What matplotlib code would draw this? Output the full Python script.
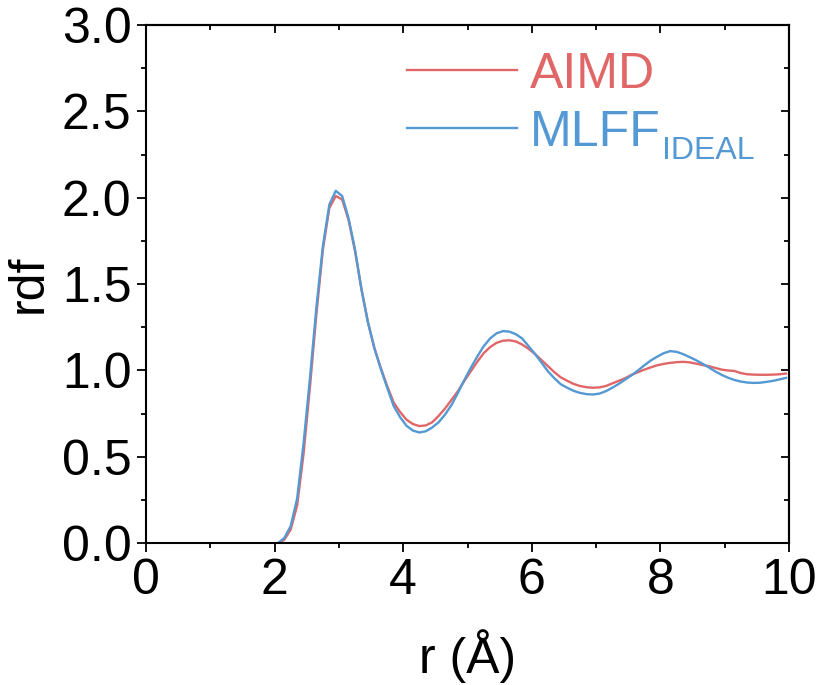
import numpy as np
import matplotlib as mpl
mpl.use('Agg')
import matplotlib.pyplot as plt
from matplotlib.ticker import MultipleLocator, FormatStrFormatter

plt.rcParams['font.family'] = ['Liberation Sans', 'DejaVu Sans']

# bin centres, 0.1 A bins
r = np.arange(100) * 0.1 + 0.05

rdf_aimd_tail = [
    0.00, 0.02, 0.08, 0.22, 0.52, 0.91, 1.33, 1.70, 1.94, 2.01,
    1.99, 1.87, 1.69, 1.47, 1.28, 1.13, 1.015, 0.91, 0.815, 0.76,
    0.715, 0.69, 0.678, 0.682, 0.70, 0.737, 0.78, 0.83, 0.88, 0.94,
    0.995, 1.05, 1.10, 1.135, 1.16, 1.172, 1.175, 1.168, 1.15, 1.125,
    1.095, 1.06, 1.025, 0.99, 0.96, 0.94, 0.922, 0.91, 0.903, 0.90,
    0.902, 0.91, 0.925, 0.94, 0.955, 0.975, 0.99, 1.005, 1.018, 1.03,
    1.038, 1.044, 1.048, 1.05, 1.047, 1.04, 1.032, 1.025, 1.015, 1.005,
    1.0, 0.997, 0.985, 0.978, 0.976, 0.975, 0.975, 0.976, 0.978, 0.982,
]
rdf_mlff_tail = [
    0.00, 0.03, 0.10, 0.26, 0.58, 0.96, 1.37, 1.72, 1.96, 2.04,
    2.01, 1.88, 1.70, 1.47, 1.28, 1.13, 1.01, 0.90, 0.795, 0.73,
    0.68, 0.652, 0.641, 0.648, 0.67, 0.70, 0.745, 0.80, 0.87, 0.945,
    1.015, 1.08, 1.14, 1.185, 1.215, 1.228, 1.225, 1.21, 1.185, 1.14,
    1.095, 1.045, 0.995, 0.955, 0.92, 0.90, 0.882, 0.87, 0.863, 0.861,
    0.866, 0.88, 0.90, 0.922, 0.947, 0.972, 1.0, 1.03, 1.058, 1.08,
    1.10, 1.112, 1.108, 1.095, 1.078, 1.06, 1.04, 1.018, 0.995, 0.975,
    0.958, 0.945, 0.936, 0.93, 0.928, 0.929, 0.934, 0.94, 0.948, 0.957,
]
# nothing below 2 A
rdf_aimd = [0.0] * 20 + rdf_aimd_tail
rdf_mlff = [0.0] * 20 + rdf_mlff_tail

red = '#E06668'
blue = '#5499D3'
fs = 36

fig = plt.figure(figsize=(8.16, 6.85), dpi=100)
ax = fig.add_axes([0.179, 0.207, 0.788, 0.7565])

ax.plot(r, rdf_aimd, color=red, lw=1.7, label='AIMD')
ax.plot(r, rdf_mlff, color=blue, lw=1.7, label='MLFF')

ax.set_xlim(0, 10)
ax.set_ylim(0, 3.0)
ax.xaxis.set_major_locator(MultipleLocator(2))
ax.xaxis.set_minor_locator(MultipleLocator(1))
ax.yaxis.set_major_locator(MultipleLocator(0.5))
ax.yaxis.set_minor_locator(MultipleLocator(0.25))
ax.yaxis.set_major_formatter(FormatStrFormatter('%.1f'))

for s in ax.spines.values():
    s.set_linewidth(1.5)
ax.tick_params(which='major', direction='out', length=6.5, width=1.3,
               labelsize=fs, pad=4)
ax.tick_params(which='minor', direction='out', length=3.5, width=1.3)

# top / right: inward ticks, no labels
top = ax.secondary_xaxis('top')
top.xaxis.set_major_locator(MultipleLocator(2))
top.xaxis.set_minor_locator(MultipleLocator(1))
top.tick_params(which='major', direction='in', length=6, width=1.3, labeltop=False)
top.tick_params(which='minor', direction='in', length=3.5, width=1.3)
right = ax.secondary_yaxis('right')
right.yaxis.set_major_locator(MultipleLocator(0.5))
right.yaxis.set_minor_locator(MultipleLocator(0.25))
right.tick_params(which='major', direction='in', length=6, width=1.3, labelright=False)
right.tick_params(which='minor', direction='in', length=3.5, width=1.3)
for sec in (top, right):
    for s in sec.spines.values():
        s.set_linewidth(1.5)

ax.set_xlabel('r (Å)', fontsize=fs, labelpad=18)
ax.set_ylabel('rdf', fontsize=fs, labelpad=7)

leg = ax.legend(loc='upper left', bbox_to_anchor=(0.406, 0.948), frameon=False,
                fontsize=fs, handlelength=2.2, handletextpad=0.25,
                labelspacing=0.24, borderaxespad=0, borderpad=0,
                labelcolor='linecolor')
# subscript after MLFF (drawn after the legend so its position is known)
mlff_txt = leg.get_texts()[1]
ax.annotate('IDEAL', xy=(1, 0), xycoords=mlff_txt, xytext=(1, -7),
            textcoords='offset points', fontsize=23, color=blue,
            ha='left', va='bottom', zorder=10)

fig.savefig('out.png', dpi=100)
